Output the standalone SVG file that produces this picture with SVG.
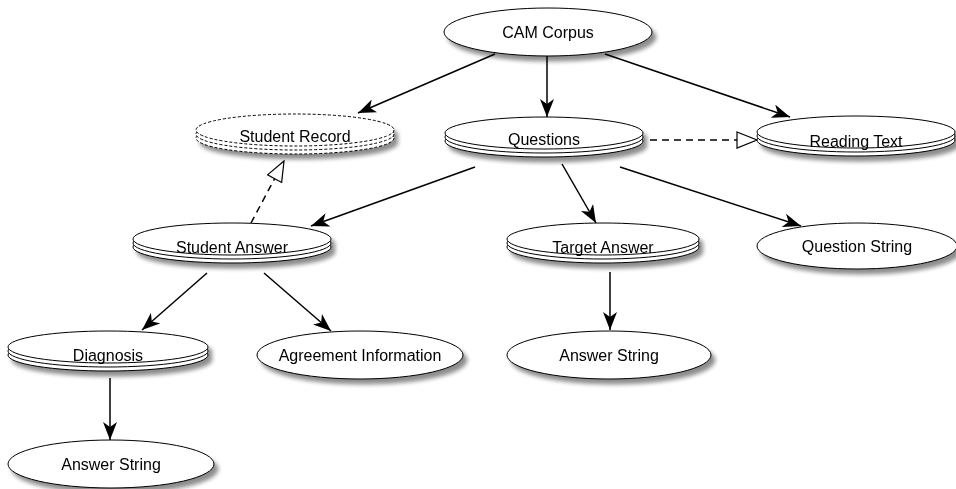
<svg xmlns="http://www.w3.org/2000/svg" width="956" height="489" viewBox="0 0 956 489">
<style>
.n{fill:#fff;stroke:#000;stroke-width:1}
.d{fill:#fff;stroke:#000;stroke-width:1;stroke-dasharray:3,2}
.t{font-family:"Liberation Sans",Arial,sans-serif;font-size:16px;fill:#000;text-anchor:middle}
.e{fill:none;stroke:#000;stroke-width:1.5}
.ed{fill:none;stroke:#000;stroke-width:1.5;stroke-dasharray:7,5}
</style>
<defs>
<filter id="sh" x="-20%" y="-40%" width="150%" height="200%">
<feGaussianBlur in="SourceAlpha" stdDeviation="2.2"/>
<feOffset dx="4" dy="5" result="b"/>
<feComponentTransfer><feFuncA type="linear" slope="0.45"/></feComponentTransfer>
<feMerge><feMergeNode/><feMergeNode in="SourceGraphic"/></feMerge>
</filter>
<marker id="a" viewBox="0 0 18 14" refX="18" refY="7" markerWidth="18" markerHeight="14" markerUnits="userSpaceOnUse" orient="auto">
<path d="M0,0 L18,7 L0,14 L5,7 z" fill="#000"/>
</marker>
<marker id="h" viewBox="0 0 22 18" refX="21" refY="9" markerWidth="22" markerHeight="18" markerUnits="userSpaceOnUse" orient="auto">
<path d="M1,1 L21,9 L1,17 z" fill="#fff" stroke="#000" stroke-width="1.2"/>
</marker>
</defs>
<g id="connectors">
<line class="e" x1="495" y1="54" x2="358" y2="113" marker-end="url(#a)"/>
<line class="e" x1="547" y1="56" x2="547" y2="117" marker-end="url(#a)"/>
<line class="e" x1="605" y1="54" x2="790" y2="117" marker-end="url(#a)"/>
<line class="ed" x1="650" y1="140" x2="757" y2="140" marker-end="url(#h)"/>
<line class="ed" x1="251" y1="223" x2="284" y2="161" marker-end="url(#h)"/>
<line class="e" x1="475" y1="167" x2="311" y2="226" marker-end="url(#a)"/>
<line class="e" x1="562" y1="164" x2="596" y2="223" marker-end="url(#a)"/>
<line class="e" x1="620" y1="167" x2="801" y2="226" marker-end="url(#a)"/>
<line class="e" x1="207" y1="273" x2="142" y2="330" marker-end="url(#a)"/>
<line class="e" x1="264" y1="273" x2="331" y2="331" marker-end="url(#a)"/>
<line class="e" x1="610" y1="272" x2="610" y2="330" marker-end="url(#a)"/>
<line class="e" x1="110" y1="378" x2="110" y2="440" marker-end="url(#a)"/>
</g>
<g id="cam" filter="url(#sh)">
<ellipse class="n" cx="548" cy="32" rx="104" ry="24"/>
<text class="t" x="548" y="38">CAM Corpus</text>
</g>
<g id="studentRecord" filter="url(#sh)">
<ellipse class="d" cx="295" cy="138" rx="99" ry="16"/>
<ellipse class="d" cx="295" cy="134" rx="99" ry="16"/>
<ellipse class="d" cx="295" cy="130" rx="99" ry="16"/>
<text class="t" x="295" y="142">Student Record</text>
</g>
<g id="questions" filter="url(#sh)">
<ellipse class="n" cx="544" cy="141" rx="99" ry="16"/>
<ellipse class="n" cx="544" cy="137" rx="99" ry="16"/>
<ellipse class="n" cx="544" cy="133" rx="99" ry="16"/>
<text class="t" x="544" y="145">Questions</text>
</g>
<g id="readingText" filter="url(#sh)">
<ellipse class="n" cx="856" cy="140" rx="99" ry="16"/>
<ellipse class="n" cx="856" cy="136" rx="99" ry="16"/>
<ellipse class="n" cx="856" cy="132" rx="99" ry="16"/>
<text class="t" x="856" y="147">Reading Text</text>
</g>
<g id="studentAnswer" filter="url(#sh)">
<ellipse class="n" cx="232" cy="247" rx="99" ry="16"/>
<ellipse class="n" cx="232" cy="243" rx="99" ry="16"/>
<ellipse class="n" cx="232" cy="239" rx="99" ry="16"/>
<text class="t" x="232" y="253">Student Answer</text>
</g>
<g id="targetAnswer" filter="url(#sh)">
<ellipse class="n" cx="603" cy="247" rx="96" ry="16"/>
<ellipse class="n" cx="603" cy="243" rx="96" ry="16"/>
<ellipse class="n" cx="603" cy="239" rx="96" ry="16"/>
<text class="t" x="603" y="253">Target Answer</text>
</g>
<g id="questionString" filter="url(#sh)">
<ellipse class="n" cx="857" cy="246" rx="100" ry="23"/>
<text class="t" x="857" y="252">Question String</text>
</g>
<g id="diagnosis" filter="url(#sh)">
<ellipse class="n" cx="108" cy="355" rx="100" ry="16"/>
<ellipse class="n" cx="108" cy="351" rx="100" ry="16"/>
<ellipse class="n" cx="108" cy="347" rx="100" ry="16"/>
<text class="t" x="108" y="361">Diagnosis</text>
</g>
<g id="agreement" filter="url(#sh)">
<ellipse class="n" cx="360" cy="355" rx="103" ry="24"/>
<text class="t" x="360" y="361">Agreement Information</text>
</g>
<g id="answerString1" filter="url(#sh)">
<ellipse class="n" cx="609" cy="355" rx="102" ry="24"/>
<text class="t" x="609" y="361">Answer String</text>
</g>
<g id="answerString2" filter="url(#sh)">
<ellipse class="n" cx="111" cy="464" rx="103" ry="24"/>
<text class="t" x="111" y="470">Answer String</text>
</g>
</svg>
